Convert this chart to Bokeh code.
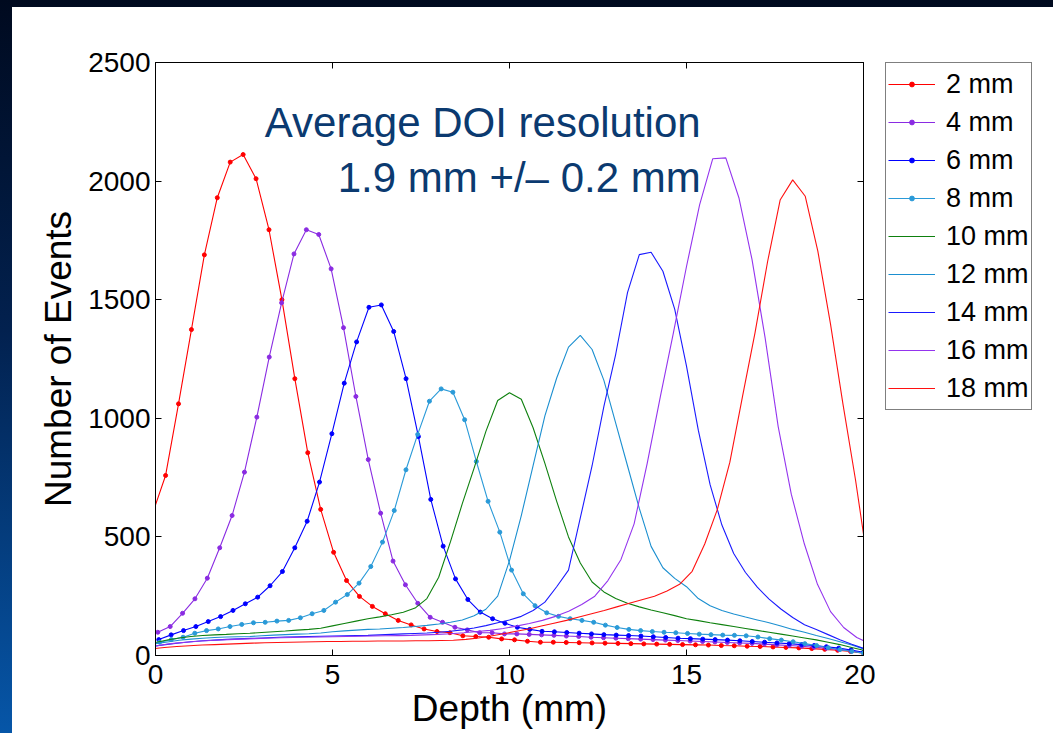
import numpy as np
from bokeh.plotting import figure
from bokeh.layouts import row
from bokeh.models import (Legend, LegendItem, LinearAxis, FixedTicker, Label,
                          CustomJSTickFormatter, Range1d)
from bokeh.embed import file_html
from bokeh.resources import INLINE

# ---------------- data ----------------
SERIES_NAMES = ["2 mm", "4 mm", "6 mm", "8 mm", "10 mm", "12 mm", "14 mm", "16 mm", "18 mm"]

# depth span (first sample, last sample) of each measured profile, mm
DEPTH_SPAN_2MM = (-0.08, 20.0)
DEPTH_SPAN_4MM = (0.065, 20.0)
DEPTH_SPAN_6MM = (0.093, 20.0)
DEPTH_SPAN_8MM = (0.116, 20.0)
DEPTH_SPAN_10MM = (0.0, 20.0)
DEPTH_SPAN_12MM = (0.0, 20.0)
DEPTH_SPAN_14MM = (0.0, 20.0)
DEPTH_SPAN_16MM = (-0.17, 20.18)
DEPTH_SPAN_18MM = (-0.105, 20.13)

EVENTS_2MM = [600, 759, 1061, 1374, 1689, 1930, 2080, 2112, 2010, 1795, 1500, 1167, 855, 616,
              435, 316, 249, 207, 176, 148, 129, 112, 101, 96, 83, 80, 77, 70, 66, 60, 56, 56,
              55, 54, 53, 52, 51, 50, 49, 48, 47, 46, 45, 44, 42, 41, 39, 38, 36, 34, 32, 29,
              26, 22, 17, 10]
EVENTS_4MM = [98, 122, 178, 239, 326, 454, 590, 773, 1005, 1258, 1487, 1693, 1795, 1775, 1630,
              1382, 1092, 826, 600, 398, 298, 220, 161, 140, 119, 108, 96, 96, 91, 91, 89, 87,
              85, 82, 80, 77, 75, 73, 71, 69, 67, 65, 63, 61, 59, 57, 55, 53, 51, 48, 45, 42,
              39, 35, 31, 26, 19, 12]
EVENTS_6MM = [67, 87, 105, 122, 143, 164, 190, 218, 246, 294, 354, 454, 566, 731, 935, 1148,
              1322, 1468, 1478, 1366, 1167, 923, 658, 461, 323, 236, 183, 155, 136, 119, 110,
              102, 100, 97, 94, 91, 88, 86, 84, 82, 79, 76, 73, 71, 69, 67, 65, 62, 59, 56, 53,
              50, 46, 42, 37, 31, 23, 14]
EVENTS_8MM = [56, 67, 77, 94, 105, 112, 122, 131, 138, 140, 145, 148, 159, 176, 190, 225, 257,
              305, 375, 478, 611, 783, 932, 1072, 1124, 1110, 994, 818, 650, 520, 360, 260, 210,
              180, 165, 155, 148, 140, 128, 118, 110, 105, 101, 98, 96, 93, 90, 88, 86, 85, 83,
              78, 71, 65, 58, 50, 42, 33, 25, 17, 10]
EVENTS_10MM = [55, 65, 74, 80, 84, 87, 89, 92, 94, 97, 100, 103, 107, 110, 115, 125, 135, 145,
               155, 163, 172, 182, 200, 240, 330, 480, 640, 790, 945, 1075, 1108, 1080, 960,
               810, 650, 500, 390, 310, 268, 240, 220, 205, 192, 180, 168, 155, 147, 138, 130,
               122, 114, 106, 98, 90, 82, 74, 66, 56, 46, 34, 22]
EVENTS_12MM = [50, 57, 64, 69, 73, 76, 78, 79, 80, 83, 86, 88, 90, 92, 95, 100, 104, 107, 110,
               112, 115, 118, 122, 127, 133, 140, 150, 168, 195, 250, 400, 590, 800, 1010, 1170,
               1300, 1350, 1290, 1160, 980, 800, 620, 460, 370, 325, 290, 240, 210, 190, 175,
               162, 150, 138, 124, 110, 98, 84, 72, 58, 44, 28]
EVENTS_14MM = [40, 47, 53, 58, 62, 65, 68, 70, 72, 74, 76, 78, 79, 80, 81, 82, 83, 84, 85, 87,
               89, 91, 93, 95, 98, 102, 108, 116, 126, 138, 150, 165, 190, 225, 290, 360, 580,
               800, 1050, 1270, 1530, 1690, 1700, 1620, 1460, 1220, 950, 720, 550, 430, 350,
               288, 238, 196, 160, 130, 110, 88, 66, 47, 30]
EVENTS_16MM = [35, 45, 52, 57, 61, 64, 67, 69, 71, 73, 75, 76, 77, 78, 79, 80, 81, 82, 83, 84,
               85, 87, 89, 92, 96, 101, 106, 114, 124, 135, 148, 165, 187, 215, 250, 316, 405,
               555, 810, 1090, 1360, 1640, 1900, 2094, 2098, 1930, 1670, 1340, 965, 680, 470,
               300, 185, 118, 76, 50]
EVENTS_18MM = [28, 34, 38, 41, 44, 46, 48, 50, 52, 54, 55, 56, 57, 58, 59, 59, 60, 60, 61, 61,
               61, 62, 62, 63, 64, 68, 74, 82, 92, 102, 112, 124, 136, 148, 162, 176, 190, 205,
               220, 235, 250, 272, 300, 355, 470, 615, 815, 1090, 1360, 1660, 1920, 2005, 1936,
               1705, 1400, 1060, 740, 380]

X_TICKS = [0, 5, 10, 15, 20]
Y_TICKS = [0, 500, 1000, 1500, 2000, 2500]

ANNOTATION_LINE1 = "Average DOI resolution"
ANNOTATION_LINE2 = "1.9 mm +/\u2013 0.2 mm"

SPANS = [DEPTH_SPAN_2MM, DEPTH_SPAN_4MM, DEPTH_SPAN_6MM, DEPTH_SPAN_8MM, DEPTH_SPAN_10MM,
         DEPTH_SPAN_12MM, DEPTH_SPAN_14MM, DEPTH_SPAN_16MM, DEPTH_SPAN_18MM]
VALUES = [EVENTS_2MM, EVENTS_4MM, EVENTS_6MM, EVENTS_8MM, EVENTS_10MM, EVENTS_12MM,
          EVENTS_14MM, EVENTS_16MM, EVENTS_18MM]

# ---------------- styles ----------------
COLORS = ["#ff0000", "#8a2be2", "#0000ff", "#2a9ad8", "#0e800e", "#1b8fd0", "#1a1aff",
          "#9434ee", "#ff1010"]
MARKED = [True, True, True, True, False, False, False, False, False]
FONT = "Liberation Sans"
LEG_W = 178

p = figure(width=1041 - LEG_W, height=726, x_range=Range1d(0, 20), y_range=Range1d(0, 2500),
           output_backend="svg", toolbar_location=None,
           min_border_left=143, min_border_right=12, min_border_top=55, min_border_bottom=78,
           background_fill_color="white", border_fill_color="white")
p.grid.visible = False
p.outline_line_color = "black"
p.outline_line_width = 1

# the legend lives in a narrow companion panel whose view range holds no data
q = figure(width=LEG_W, height=726, x_range=Range1d(-60, -40), y_range=Range1d(0, 2500),
           x_axis_location=None, y_axis_location=None,
           output_backend="svg", toolbar_location=None,
           min_border_left=10, min_border_right=0, min_border_top=55, min_border_bottom=78,
           background_fill_color="white", border_fill_color="white")
q.grid.visible = False
q.outline_line_color = None

items = []
for name, span, vals, col, mk in zip(SERIES_NAMES, SPANS, VALUES, COLORS, MARKED):
    xs = np.linspace(span[0], span[1], len(vals))
    p.line(xs, vals, line_color=col, line_width=1.1)
    proxy = [q.line(xs, vals, line_color=col, line_width=1.1)]
    if mk:
        p.scatter(xs, vals, marker="circle", size=4, fill_color=col, line_color=col)
        proxy.append(q.scatter(xs, vals, marker="circle", size=4, fill_color=col, line_color=col))
    items.append(LegendItem(label=name, renderers=proxy))

for ax in (p.xaxis[0], p.yaxis[0]):
    ax.major_tick_in = 6
    ax.major_tick_out = 0
    ax.minor_tick_line_color = None
    ax.axis_line_color = "black"
    ax.major_tick_line_color = "black"
    ax.major_label_text_font = FONT
    ax.major_label_text_font_size = "28px"
    ax.major_label_text_color = "black"
    ax.axis_label_text_font = FONT
    ax.axis_label_text_font_size = "37px"
    ax.axis_label_text_font_style = "normal"
    ax.axis_label_text_color = "black"

p.xaxis[0].ticker = FixedTicker(ticks=X_TICKS)
p.yaxis[0].ticker = FixedTicker(ticks=Y_TICKS)
p.xaxis[0].axis_label = "Depth (mm)"
p.yaxis[0].axis_label = "Number of Events"
p.xaxis[0].major_label_standoff = 9
p.yaxis[0].major_label_standoff = 5
p.xaxis[0].axis_label_standoff = 1
p.yaxis[0].axis_label_standoff = 6

blank = "return ''"
right_ax = LinearAxis(ticker=FixedTicker(ticks=Y_TICKS), formatter=CustomJSTickFormatter(code=blank),
                      major_tick_in=6, major_tick_out=0, minor_tick_line_color=None,
                      axis_line_color="black", major_label_text_font_size="1px",
                      major_label_standoff=0)
top_ax = LinearAxis(ticker=FixedTicker(ticks=X_TICKS), formatter=CustomJSTickFormatter(code=blank),
                    major_tick_in=6, major_tick_out=0, minor_tick_line_color=None,
                    axis_line_color="black", major_label_text_font_size="1px",
                    major_label_standoff=0)
p.add_layout(top_ax, "above")
p.add_layout(right_ax, "right")

legend = Legend(items=items, location="top_left", orientation="vertical",
                padding=2, spacing=0, margin=0,
                glyph_height=12, label_height=38, glyph_width=47, label_standoff=11,
                label_text_font=FONT, label_text_font_size="27px", label_text_color="black",
                border_line_color="black", border_line_width=1,
                background_fill_color="white", background_fill_alpha=1.0)
q.add_layout(legend, "center")

NAVY = "#0b3a70"
p.add_layout(Label(x=15.4, y=2247, text=ANNOTATION_LINE1, text_align="right",
                   text_baseline="alphabetic", text_font=FONT, text_font_size="42px",
                   text_color=NAVY))
p.add_layout(Label(x=15.4, y=2015, text=ANNOTATION_LINE2, text_align="right",
                   text_baseline="alphabetic", text_font=FONT, text_font_size="42px",
                   text_color=NAVY))

layout = row(p, q, spacing=0, styles={"background-color": "white"})

STYLE = """<style>
html, body { margin: 0 !important; padding: 0 !important; overflow: hidden !important; }
body { background: linear-gradient(to bottom, #000a1f 0%, #02214f 45%, #0656a8 100%) !important;
       padding: 7px 0 0 12px !important; box-sizing: border-box !important; }
</style>"""

html = None
try:
    from bokeh.core.templates import get_env
    tmpl = get_env().from_string(
        '{% extends "file.html" %}{% block postamble %}' + STYLE + '{% endblock %}')
    html = file_html(layout, INLINE, title="DOI resolution", template=tmpl)
except Exception:
    html = file_html(layout, INLINE, title="DOI resolution")

with open("out.html", "w") as f:
    f.write(html)
